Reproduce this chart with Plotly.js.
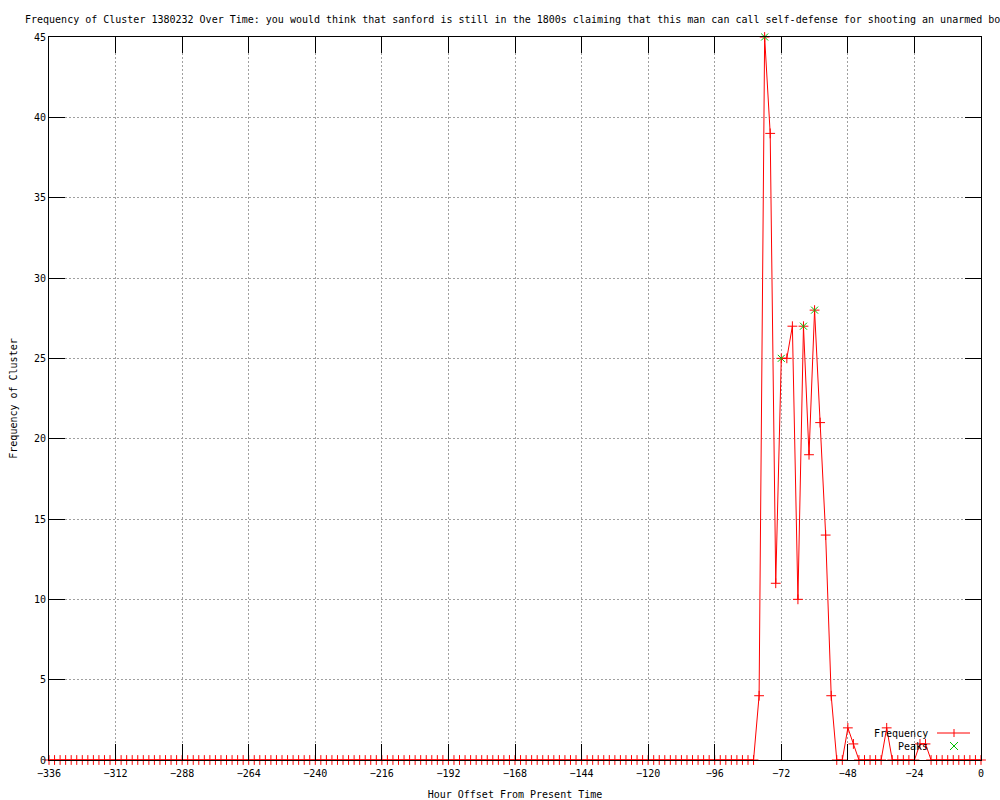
<!DOCTYPE html>
<html>
<head>
<meta charset="utf-8">
<script src="https://cdn.plot.ly/plotly-3.0.1.min.js"></script>
<style>html,body{margin:0;padding:0;background:#fff;}#chart{width:1000px;height:800px;}</style>
</head>
<body>
<div id="chart"></div>
<script>
// Hour offsets (every 2 hours)
const hours = [
  -336,-334,-332,-330,-328,-326,-324,-322,-320,-318,
  -316,-314,-312,-310,-308,-306,-304,-302,-300,-298,
  -296,-294,-292,-290,-288,-286,-284,-282,-280,-278,
  -276,-274,-272,-270,-268,-266,-264,-262,-260,-258,
  -256,-254,-252,-250,-248,-246,-244,-242,-240,-238,
  -236,-234,-232,-230,-228,-226,-224,-222,-220,-218,
  -216,-214,-212,-210,-208,-206,-204,-202,-200,-198,
  -196,-194,-192,-190,-188,-186,-184,-182,-180,-178,
  -176,-174,-172,-170,-168,-166,-164,-162,-160,-158,
  -156,-154,-152,-150,-148,-146,-144,-142,-140,-138,
  -136,-134,-132,-130,-128,-126,-124,-122,-120,-118,
  -116,-114,-112,-110,-108,-106,-104,-102,-100,-98,
  -96,-94,-92,-90,-88,-86,-84,-82,-80,-78,
  -76,-74,-72,-70,-68,-66,-64,-62,-60,-58,
  -56,-54,-52,-50,-48,-46,-44,-42,-40,-38,
  -36,-34,-32,-30,-28,-26,-24,-22,-20,-18,
  -16,-14,-12,-10,-8,-6,-4,-2,0
];
// Frequency of cluster at each hour offset
const frequency = [
  0,0,0,0,0,0,0,0,0,0,
  0,0,0,0,0,0,0,0,0,0,
  0,0,0,0,0,0,0,0,0,0,
  0,0,0,0,0,0,0,0,0,0,
  0,0,0,0,0,0,0,0,0,0,
  0,0,0,0,0,0,0,0,0,0,
  0,0,0,0,0,0,0,0,0,0,
  0,0,0,0,0,0,0,0,0,0,
  0,0,0,0,0,0,0,0,0,0,
  0,0,0,0,0,0,0,0,0,0,
  0,0,0,0,0,0,0,0,0,0,
  0,0,0,0,0,0,0,0,0,0,
  0,0,0,0,0,0,0,0,4,45,
  39,11,25,25,27,10,27,19,28,21,
  14,4,0,0,2,1,0,0,0,0,
  0,2,0,0,0,0,0,1,1,0,
  0,0,0,0,0,0,0,0,0
];
// Detected peaks
const peakHours = [-78, -72, -64, -60];
const peakValues = [45, 25, 27, 28];
// Axis ticks
const xTicks = [-336,-312,-288,-264,-240,-216,-192,-168,-144,-120,-96,-72,-48,-24,0];
const yTicks = [0,5,10,15,20,25,30,35,40,45];

const titleText = "Frequency of Cluster 1380232 Over Time: you would think that sanford is still in the 1800s claiming that this man can call self-defense for shooting an unarmed boy";

const FONT = "DejaVu Sans Mono, Liberation Mono, monospace";
const L = 49, R = 981, T = 37, B = 760, W = 1000, H = 800;
const px = X => (X - L) / (R - L);
const py = Y => (B - Y) / (B - T);

const traces = [
  {
    x: hours, y: frequency, type: 'scatter', mode: 'lines+markers', name: 'Frequency',
    line: {color: '#ff0000', width: 1},
    marker: {symbol: 'cross-thin', size: 7, line: {color: '#ff0000', width: 1}, color: '#ff0000'},
    cliponaxis: false, showlegend: false
  },
  {
    x: peakHours, y: peakValues, type: 'scatter', mode: 'markers', name: 'Peaks',
    marker: {symbol: 'x-thin', size: 7, line: {color: '#00c000', width: 1}, color: '#00c000'},
    cliponaxis: false, showlegend: false
  }
];

const axisCommon = {
  showline: true, linecolor: '#000', linewidth: 1, mirror: 'allticks',
  ticks: 'inside', ticklen: 16, tickcolor: '#000', tickwidth: 1,
  showgrid: true, gridcolor: '#a0a0a0', gridwidth: 1, griddash: '2px,2px',
  zeroline: false, tickfont: {family: FONT, size: 10, color: '#000'}
};

const layout = {
  width: W, height: H,
  margin: {l: L, r: W - R, t: T, b: H - B, pad: 0},
  paper_bgcolor: '#fff', plot_bgcolor: '#fff',
  showlegend: false,
  title: {
    text: titleText, font: {family: FONT, size: 10, color: '#000'},
    xref: 'container', yref: 'container', x: 0.025, xanchor: 'left', y: 1 - 19/800, yanchor: 'middle'
  },
  xaxis: Object.assign({}, axisCommon, {
    range: [-336, 0], tickmode: 'array', tickvals: xTicks, ticklabelstandoff: 4,
    title: {text: 'Hour Offset From Present Time', font: {family: FONT, size: 10, color: '#000'}, standoff: 14},
    automargin: false
  }),
  yaxis: Object.assign({}, axisCommon, {
    range: [0, 45], tickmode: 'array', tickvals: yTicks,
    title: {text: 'Frequency of Cluster', font: {family: FONT, size: 10, color: '#000'}, standoff: 14},
    automargin: false
  }),
  annotations: [
    {xref: 'paper', yref: 'paper', x: px(930), y: py(733), xanchor: 'right', yanchor: 'middle',
     text: 'Frequency', showarrow: false, font: {family: FONT, size: 10, color: '#000'}},
    {xref: 'paper', yref: 'paper', x: px(930), y: py(746), xanchor: 'right', yanchor: 'middle',
     text: 'Peaks', showarrow: false, font: {family: FONT, size: 10, color: '#000'}}
  ],
  shapes: [
    {type: 'line', xref: 'paper', yref: 'paper', x0: px(937), x1: px(970), y0: py(733), y1: py(733),
     line: {color: '#ff0000', width: 1}},
    {type: 'line', xref: 'paper', yref: 'paper', x0: px(954), x1: px(954), y0: py(729), y1: py(737),
     line: {color: '#ff0000', width: 1}},
    {type: 'line', xref: 'paper', yref: 'paper', x0: px(950), x1: px(958), y0: py(742), y1: py(750),
     line: {color: '#00c000', width: 1}},
    {type: 'line', xref: 'paper', yref: 'paper', x0: px(950), x1: px(958), y0: py(750), y1: py(742),
     line: {color: '#00c000', width: 1}}
  ]
};

Plotly.newPlot('chart', traces, layout, {displayModeBar: false, staticPlot: true});
</script>
</body>
</html>
